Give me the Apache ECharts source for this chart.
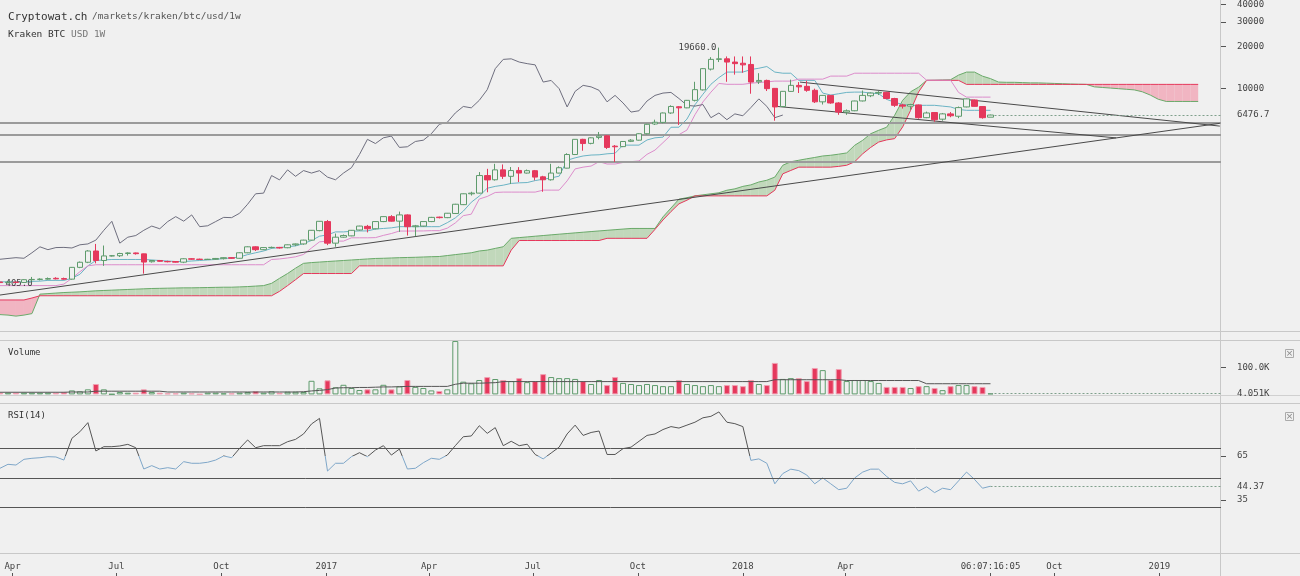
<!DOCTYPE html>
<html>
<head>
<meta charset="utf-8">
<script src="https://cdn.jsdelivr.net/npm/echarts@6.0.0/dist/echarts.min.js"></script>
<style>
html,body{margin:0;padding:0;background:#f0f0f0;}
#chart{width:1300px;height:576px;}
</style>
</head>
<body>
<div id="chart"></div>
<script>
// ================= DATA =================
const firstWeek = '2016-03-21';
const opens = [414,410,413,411,430,432,434,440,438,434, 527,573,690,590,636,638,662,668,658,578, 590,580,580,574,607,603,600,602,608,618, 612,670,739,705,730,732,728,764,775,825, 965,1120,785,866,885,975,1035,995,1120,1215, 1128,1250,1030,1040,1120,1205,1195,1280,1480,1770, 1790,2390,2230,2625,2360,2600,2490,2590,2340,2230, 2490,2700,3380,4340,4060,4480,4600,3880,3850,4200, 4280,4760,5590,5740,6700,7420,7290,8250,9800,13800, 16200,16350,15500,15200,14900,11200,11450,10050,7450,9560, 10550,10390,9730,8050,8950,7900,6800,6950,8170,8900, 9300,9400,8500,7650,7500,7650,6200,6750,6050,6600, 6350,7400,8300,7450,6250];
const highs = [418,416,418,433,450,440,446,448,445,530, 580,700,775,755,645,670,675,672,660,595, 595,588,585,612,612,608,606,615,622,622, 675,745,745,735,742,738,768,780,830,975, 1130,1150,920,905,975,1045,1060,1125,1220,1245, 1320,1262,1060,1125,1210,1215,1290,1500,1780,1830, 2530,2670,2900,2870,2750,2745,2640,2620,2380,2900, 2780,3450,4350,4380,4480,4900,4650,3950,4200,4350, 4800,5600,6000,6750,7600,7500,8300,11200,14000,16800, 19660,17000,17000,17000,17000,12900,11600,10100,9600,11600, 11150,11400,10000,9000,9000,8000,7100,8200,9700,9400, 9600,9500,8600,7800,7800,7700,6850,6800,6700,6800, 7450,8500,8350,7500,6520];
const lows = [408,405,409,408,418,425,430,432,430,430, 520,565,563,540,630,625,640,650,475,570, 578,572,570,565,598,596,596,598,600,608, 608,665,690,700,720,718,722,748,765,820, 955,760,740,860,880,965,937,985,1110,1120, 945,890,880,1030,1110,1180,1185,1270,1470,1720, 1780,1815,2200,2260,2080,2150,2470,2210,1830,2200, 2480,2690,3350,3600,4000,4340,3700,2990,3820,4150, 4250,4700,5500,5650,6600,5500,7250,8100,9700,13500, 15500,11200,12600,13000,9200,10800,9620,5900,7400,9500, 9310,9500,7900,7700,7800,6500,6500,6900,8100,8700, 9000,8400,7400,7200,7050,6100,6150,5800,5900,6250, 6150,7350,7450,6100,6250];
const closes = [410,413,411,430,432,434,438,436,434,527, 573,690,590,636,638,662,668,660,575,590, 582,578,574,607,603,600,602,610,618,612, 670,739,705,730,732,725,764,775,825,970, 1125,785,866,890,970,1040,995,1120,1215,1128, 1250,1030,1045,1120,1200,1195,1285,1490,1770,1790, 2390,2225,2625,2360,2595,2490,2590,2330,2230,2490, 2720,3380,4340,4050,4450,4580,3800,3840,4190,4280, 4760,5560,5750,6700,7460,7290,8250,9840,13900,16200, 16350,15500,15100,14800,11150,11450,10000,7400,9570,10560, 10300,9730,8050,8950,7900,6800,6950,8160,8950,9300, 9400,8500,7600,7500,7700,6200,6700,6000,6600,6400, 7320,8450,7470,6200,6476.7];
const volumes = [6400,6400,6400,6400,6400,6400,6400,6400,9000,15000, 11600,19000,39000,19000,1000,9000,6400,6400,19000,9000, 6400,4000,4000,6400,4000,1000,6400,6400,4000,4000, 6400,9000,12700,6400,11600,6400,10000,10000,9000,51000, 22800,52800,26600,36000,24000,16500,19000,19000,36000,19000, 30000,54000,28000,24000,15000,12700,19000,200000,47600,41600, 54000,65000,57700,54000,50000,61000,46000,50000,76000,65000, 61000,61000,58000,50000,39000,54000,35000,65000,43000,39000, 35000,39000,35000,31000,31000,54000,39000,35000,31000,35000, 31000,35000,35000,31000,54000,39000,35000,118000,58000,61000, 61000,50000,99000,91000,54000,95000,50000,54000,54000,50000, 43000,28000,28000,28000,24000,31000,31000,24000,16000,31000, 35000,35000,31000,28000,4051];
const volumeMA = [8000,8000,8000,8000,8000,8000,8000,8000,8000,9000, 9000,9000,12000,12000,12000,12000,12000,12000,12000,12000, 12000,9000,9000,9000,9000,9000,9000,9000,9000,9000, 9000,9000,9000,9000,9000,9000,9000,9000,10000,13000, 15000,18000,24000,25000,25000,26000,26000,27000,28000,28000, 29000,30000,30000,30000,30000,30000,30000,38000,42000,42000, 42000,43000,44000,48000,48000,48000,48000,48000,48000,48000, 48000,48000,48000,48000,48000,48000,48000,48000,48000,48000, 48000,48000,48000,48000,48000,48000,48000,48000,48000,48000, 48000,48000,48000,48000,48000,48000,48000,55000,55000,55000, 55000,55000,55000,55000,55000,55000,52000,52000,52000,52000, 52000,52000,52000,52000,52000,52000,40000,40000,40000,40000, 40000,40000,40000,40000,40000];
const rsi = [56.6,59.3,58.8,62.7,63.4,63.8,64.5,64.3,62.2,77, 81.5,87.7,68.4,71.3,71.3,71.8,72.9,70.6,56.1,58.4, 56.1,57,56.1,61.1,60,60,60.7,62.2,65,63.8, 70.2,75.9,70.6,72,72,72,74.7,76.3,80,86.8, 90.6,54.7,60,60,64.5,67.2,64.5,69,72,65.6, 69.7,56.1,56.6,60.4,63.4,62.7,65.6,72,78.1,78.6, 85.6,80.4,84.3,72,75,72,73,66,63,67, 71,80,86,79,81,82,66,66,70,71, 75,79,80,83,85,84,86,88,91,92, 95,88,87,85,62,63,60,46,53,56, 55,52,46,50,46,42,43,50,54,56, 56,51,47,46,48,41,44,40,43,42, 48,54,49,43,44.37];
const tenkan = [415,415,415,415,418,420,425,425,425,440, 470,540,590,595,600,600,600,600,600,595, 590,585,580,580,585,590,595,600,610,615, 625,650,670,690,720,730,740,750,780,820, 880,900,945,945,955,960,960,990,1000,1010, 1030,1030,1030,1030,1030,1030,1100,1190,1330,1540, 1705,1940,2000,2040,2100,2120,2130,2200,2250,2300, 2365,3075,3200,3300,3350,3365,3420,3450,3945,3945, 3945,4295,4450,4500,5295,5300,6060,7675,9125,10750, 12000,13140,13140,13140,13700,14000,14400,13140,12900,12900, 11465,11465,11465,9300,9000,9200,9400,9450,9450,9300, 9200,8380,8000,7700,7600,7600,7600,7600,7500,7400, 7100,7000,7000,7000,7000];
const kijun = [390,390,390,390,390,390,390,390,400,440, 490,540,550,550,550,550,550,550,550,550, 550,550,550,550,550,550,550,550,550,550, 550,550,550,550,600,605,615,627,652,725, 802,812,812,812,857,857,857,860,892,920, 958,958,959,960,964,964,1005,1095,1235,1265, 1624,1694,1809,1820,1820,1820,1820,1820,1880,1880, 1880,2190,2667,2745,2795,3005,2890,2890,2965,3005, 3040,3390,3635,4110,4660,4690,5057,6507,8040,9440, 10900,10745,10745,10745,10930,11070,11175,11325,11325,11325, 11700,11700,11700,11700,12300,12300,12300,12900,12900,12900, 12900,12900,12900,12900,12900,12900,11500,11500,11500,11500, 9400,8700,8700,8700,8700];
const spanA = [242,240,236,240,246,339,342,345,348,350, 352,355,358,360,362,364,366,368,370,372, 373,374,375,376,376,377,378,379,380,380, 382,384,387,390,405,440,476,520,563,570, 575,580,585,590,595,600,605,610,612,615, 618,620,622,625,628,630,640,650,660,670, 690,700,720,740,850,860,870,880,890,900, 910,920,930,940,950,960,970,980,990,1000, 1000,1000,1000,1210,1400,1620,1660,1710,1740,1770, 1800,1877,1920,2000,2050,2150,2213,2330,2832,3000, 3075,3150,3220,3300,3339,3400,3470,3935,4273,4760, 5037,5300,6447,8250,9500,10250,11465,11500,11550,11590, 12500,13140,13140,12290,11800,11150,11100,11100,11050,11000, 11000,10950,10900,10850,10800,10760,10730,10300,10200,10100, 10000,9900,9800,9500,9000,8400,8100,8100,8100,8100, 8100];
const spanB = [308,308,308,308,318,330,330,330,330,330, 330,330,330,330,330,330,330,330,330,330, 330,330,330,330,330,330,330,330,330,330, 330,330,330,330,330,355,390,430,476,476, 476,476,476,476,476,540,540,540,540,540, 540,540,540,540,540,540,540,540,540,540, 540,540,540,540,700,820,820,820,820,820, 820,820,820,820,820,820,850,850,850,850, 850,850,985,1150,1320,1500,1593,1710,1710,1710, 1710,1710,1710,1710,1710,1710,1710,1877,2460,2600, 2745,2745,2745,2745,2745,2780,2832,3000,3420,3800, 4150,4300,4390,5320,7000,9480,11465,11465,11465,11465, 11465,10730,10730,10730,10730,10730,10730,10730,10730,10730, 10730,10730,10730,10730,10730,10730,10730,10730,10730,10730, 10730,10730,10730,10730,10730,10730,10730,10730,10730,10730, 10730];
const chikouShift = 26;
const priceTicks = [10000, 20000, 30000, 40000];
const volumeTicks = [100000];
const rsiTicks = [35, 65];
const rsiLevels = [70, 50, 30];
const rsiColorSplit = 65;
const priceLevels = [5740, 4690, 2990];
const trendLines = [
  [['2016-03-21', 334], ['2019-02-23', 5650]],
  [['2018-02-20', 11145], ['2019-02-23', 5397]],
  [['2018-01-30', 7474], ['2018-11-24', 4445]]
];
const timeTickDates = ['2016-04-01','2016-07-01','2016-10-01','2017-01-01','2017-04-01','2017-07-01','2017-10-01','2018-01-01','2018-04-01','2018-08-06','2018-10-01','2019-01-01'];
const timeTickLabels = ['Apr','Jul','Oct','2017','Apr','Jul','Oct','2018','Apr','06:07:16:05','Oct','2019'];
const highLabelIndex = 90, lowLabelIndex = 1;

// ================= CHART =================
const DAY = 86400000;
const t0 = Date.parse(firstWeek + 'T00:00:00Z');
const weekTime = i => t0 + i * 7 * DAY;
const xMin = t0, xMax = t0 + 1070 * DAY;
const yMin = 184.7, yMax = 42730;
const N = opens.length;
const last = N - 1;
const FONT = 'DejaVu Sans Mono';
const UP = '#5e9b6c', DOWN = '#e5385c';
const tp = s => Date.parse(s + 'T00:00:00Z');
const timeTicks = timeTickDates.map(tp);
const fmtTime = v => { let k = 0, best = Infinity; timeTicks.forEach((t, i) => { const d = Math.abs(t - v); if (d < best) { best = d; k = i; } }); return timeTickLabels[k]; };
const labelStyle = () => ({fontFamily: FONT, fontSize: 9, color: '#444'});
const hidden = () => ({axisLine: {show: false}, axisTick: {show: false}, axisLabel: {show: false}, splitLine: {show: false}});

const GRIDS = [
  {left: 0, right: 79, top: 0, height: 331},
  {left: 0, right: 79, top: 340.5, height: 53.9},
  {left: 0, right: 79, top: 404.6, height: 146.7},
  {left: 0, right: 79, top: 553, height: 20}
];
const RSI_MIN = 0, RSI_MAX = 100;

const candleData = opens.map((o, i) => [weekTime(i), o, closes[i], lows[i], highs[i]]);
const cloudData = [];
for (let i = 0; i < spanA.length - 1; i++) cloudData.push([weekTime(i), spanA[i], spanB[i], weekTime(i + 1), spanA[i + 1], spanB[i + 1]]);
const line = arr => arr.map((v, i) => [weekTime(i), v]);
const chikouData = closes.slice(chikouShift).map((v, i) => [weekTime(i), v]);
const volData = volumes.map((v, i) => ({
  value: [weekTime(i), v],
  itemStyle: closes[i] >= opens[i] ? {color: '#f0f0f0', borderColor: UP, borderWidth: 1} : {color: DOWN, borderColor: '#f0a0b2', borderWidth: 1}
}));

const xAxes = [];
for (let g = 0; g < 4; g++) xAxes.push(Object.assign({type: 'value', gridIndex: g, min: xMin, max: xMax}, hidden()));
xAxes[3].axisLabel = Object.assign({show: true, inside: true, margin: 2, customValues: timeTicks, formatter: fmtTime}, labelStyle());
xAxes[3].axisTick = {show: true, customValues: timeTicks, length: 3, lineStyle: {color: '#555'}};

const lastLine = (t, v, text) => [{coord: [t, v], lineStyle: {color: '#7fa08c', type: [2, 2], width: 1}, label: Object.assign({show: true, position: 'end', distance: 16, formatter: text}, labelStyle())}, {coord: [xMax, v]}];
const yAx = (g, min, max, vals, fmt) => {
  const a = {type: 'value', gridIndex: g, min: min, max: max, position: 'right', axisLine: {show: false}, splitLine: {show: false}};
  a.axisTick = {show: true, customValues: vals, length: 5, lineStyle: {color: '#555'}};
  a.axisLabel = Object.assign({customValues: vals, margin: 16}, labelStyle());
  if (fmt) a.axisLabel.formatter = fmt;
  return a;
};
const yAxes = [
  Object.assign({type: 'log', gridIndex: 0, min: yMin, max: yMax, position: 'right'}, hidden()),
  yAx(0, Math.log10(yMin), Math.log10(yMax), priceTicks.map(Math.log10), v => String(Math.round(Math.pow(10, v)))),
  yAx(1, 0, 202000, volumeTicks, v => (v / 1000).toFixed(1) + 'K'),
  yAx(2, RSI_MIN, RSI_MAX, rsiTicks, null),
  Object.assign({type: 'value', gridIndex: 3, min: 0, max: 1}, hidden())
];

// RSI colour: dark above the split level, blue below (hard-stop gradient in the RSI panel)
const rsiTop = GRIDS[2].top, rsiBottom = GRIDS[2].top + GRIDS[2].height;
const split = (RSI_MAX - rsiColorSplit) / (RSI_MAX - RSI_MIN);
const rsiColor = new echarts.graphic.LinearGradient(0, rsiTop, 0, rsiBottom, [
  {offset: 0, color: '#555555'}, {offset: split, color: '#555555'},
  {offset: split, color: '#7ea6c8'}, {offset: 1, color: '#7ea6c8'}
], true);

const series = [
  {type: 'custom', xAxisIndex: 0, yAxisIndex: 0, data: cloudData, silent: true, z: 1,
    encode: {x: [0, 3], y: [1, 2, 4, 5]},
    renderItem: function (params, api) {
      const a0 = api.coord([api.value(0), api.value(1)]);
      const b0 = api.coord([api.value(0), api.value(2)]);
      const a1 = api.coord([api.value(3), api.value(4)]);
      const b1 = api.coord([api.value(3), api.value(5)]);
      const G = '#c1d8bb', P = '#f1b5c2';
      const d0 = b0[1] - a0[1], d1 = b1[1] - a1[1];
      if (d0 * d1 >= 0) return {type: 'polygon', shape: {points: [a0, a1, b1, b0]}, style: {fill: (d0 + d1) >= 0 ? G : P}};
      const t = d0 / (d0 - d1);
      const p = [a0[0] + t * (a1[0] - a0[0]), a0[1] + t * (a1[1] - a0[1])];
      return {type: 'group', children: [
        {type: 'polygon', shape: {points: [a0, p, b0]}, style: {fill: d0 > 0 ? G : P}},
        {type: 'polygon', shape: {points: [p, a1, b1]}, style: {fill: d1 > 0 ? G : P}}
      ]};
    }},
  {type: 'line', xAxisIndex: 0, yAxisIndex: 0, data: line(spanA), showSymbol: false, lineStyle: {color: '#6aaa6a', width: 1}, z: 2},
  {type: 'line', xAxisIndex: 0, yAxisIndex: 0, data: line(spanB), showSymbol: false, lineStyle: {color: '#e5385c', width: 1}, z: 2},
  {type: 'line', xAxisIndex: 0, yAxisIndex: 0, data: line(tenkan), showSymbol: false, lineStyle: {color: '#6ab3c4', width: 1}, z: 3},
  {type: 'line', xAxisIndex: 0, yAxisIndex: 0, data: line(kijun), showSymbol: false, lineStyle: {color: '#dc8ccb', width: 1}, z: 3},
  {type: 'line', xAxisIndex: 0, yAxisIndex: 0, data: chikouData, showSymbol: false, lineStyle: {color: '#6e6e7e', width: 1}, z: 3},
  {type: 'candlestick', xAxisIndex: 0, yAxisIndex: 0, data: candleData, barWidth: 6, z: 5,
    encode: {x: 0, y: [1, 2, 3, 4]},
    itemStyle: {color: '#f0f0f0', color0: DOWN, borderColor: UP, borderColor0: DOWN, borderWidth: 1},
    markPoint: {symbol: 'circle', symbolSize: 1, silent: true, itemStyle: {color: 'rgba(0,0,0,0)'}, data: [
      {coord: [weekTime(highLabelIndex), highs[highLabelIndex]], label: Object.assign({show: true, position: 'left', distance: 2, formatter: highs[highLabelIndex].toFixed(1)}, labelStyle())},
      {coord: [weekTime(lowLabelIndex), lows[lowLabelIndex]], label: Object.assign({show: true, position: 'right', distance: -3, formatter: lows[lowLabelIndex].toFixed(1)}, labelStyle())}
    ]},
    markLine: {symbol: ['none', 'none'], silent: true, label: {show: false}, data: [
      ...priceLevels.map(v => ({yAxis: v, lineStyle: {color: '#9b9b9b', width: 2, type: 'solid'}, label: {show: false}})),
      ...trendLines.map(l => [{coord: [tp(l[0][0]), l[0][1]], lineStyle: {color: '#4a4a4a', width: 1, type: 'solid'}}, {coord: [tp(l[1][0]), l[1][1]]}]),
      lastLine(weekTime(last), closes[last], String(closes[last]))
    ]}},
  {type: 'bar', xAxisIndex: 1, yAxisIndex: 2, data: volData, barWidth: 6, z: 2,
    markLine: {symbol: ['none', 'none'], silent: true, data: [lastLine(weekTime(last), volumes[last], (volumes[last] / 1000).toFixed(3) + 'K')]}},
  {type: 'line', xAxisIndex: 1, yAxisIndex: 2, data: line(volumeMA), showSymbol: false, lineStyle: {color: '#555', width: 1}, z: 3},
  {type: 'line', xAxisIndex: 2, yAxisIndex: 3, data: line(rsi), showSymbol: false, lineStyle: {width: 1, color: rsiColor}, z: 3,
    markLine: {symbol: ['none', 'none'], silent: true, data: [
      ...rsiLevels.map(v => ({yAxis: v, lineStyle: {color: '#555', width: 1, type: 'solid'}, label: {show: false}})),
      lastLine(weekTime(last), rsi[last], String(rsi[last]))
    ]}}
];

const option = {
  animation: false, backgroundColor: '#f0f0f0',
  grid: GRIDS, xAxis: xAxes, yAxis: yAxes, series: series,
  graphic: [
    {type: 'line', shape: {x1: 1220.5, y1: 0, x2: 1220.5, y2: 576}, style: {stroke: '#c8c8c8', lineWidth: 1}, silent: true},
    {type: 'line', shape: {x1: 0, y1: 331.5, x2: 1300, y2: 331.5}, style: {stroke: '#c8c8c8', lineWidth: 1}, silent: true},
    {type: 'line', shape: {x1: 0, y1: 340.5, x2: 1300, y2: 340.5}, style: {stroke: '#c8c8c8', lineWidth: 1}, silent: true},
    {type: 'line', shape: {x1: 0, y1: 395.5, x2: 1300, y2: 395.5}, style: {stroke: '#d0d0d0', lineWidth: 1}, silent: true},
    {type: 'line', shape: {x1: 0, y1: 403.5, x2: 1300, y2: 403.5}, style: {stroke: '#c8c8c8', lineWidth: 1}, silent: true},
    {type: 'line', shape: {x1: 0, y1: 553.5, x2: 1300, y2: 553.5}, style: {stroke: '#c8c8c8', lineWidth: 1}, silent: true},
    {type: 'text', x: 8, y: 17, style: {text: 'Cryptowat.ch', font: '11px "DejaVu Sans Mono"', fill: '#333', verticalAlign: 'middle'}},
    {type: 'text', x: 92, y: 17, style: {text: '/markets/kraken/btc/usd/1w', font: '9.5px "DejaVu Sans Mono"', fill: '#555', verticalAlign: 'middle'}},
    {type: 'text', x: 8, y: 35, style: {text: 'Kraken BTC', font: '9.5px "DejaVu Sans Mono"', fill: '#333', verticalAlign: 'middle'}},
    {type: 'text', x: 71, y: 35, style: {text: 'USD 1W', font: '9.5px "DejaVu Sans Mono"', fill: '#777', verticalAlign: 'middle'}},
    {type: 'text', x: 8, y: 353, style: {text: 'Volume', font: '9px "DejaVu Sans Mono"', fill: '#333', verticalAlign: 'middle'}},
    {type: 'text', x: 8, y: 416, style: {text: 'RSI(14)', font: '9px "DejaVu Sans Mono"', fill: '#333', verticalAlign: 'middle'}},
    {type: 'rect', shape: {x: 1285.5, y: 349.5, width: 8, height: 8}, style: {fill: 'none', stroke: '#aaa'}},
    {type: 'text', x: 1289.5, y: 353.5, style: {text: '×', font: '9px "DejaVu Sans"', fill: '#888', align: 'center', verticalAlign: 'middle'}},
    {type: 'rect', shape: {x: 1285.5, y: 412.5, width: 8, height: 8}, style: {fill: 'none', stroke: '#aaa'}},
    {type: 'text', x: 1289.5, y: 416.5, style: {text: '×', font: '9px "DejaVu Sans"', fill: '#888', align: 'center', verticalAlign: 'middle'}}
  ]
};
const chart = echarts.init(document.getElementById('chart'));
chart.setOption(option);
</script>
</body>
</html>
